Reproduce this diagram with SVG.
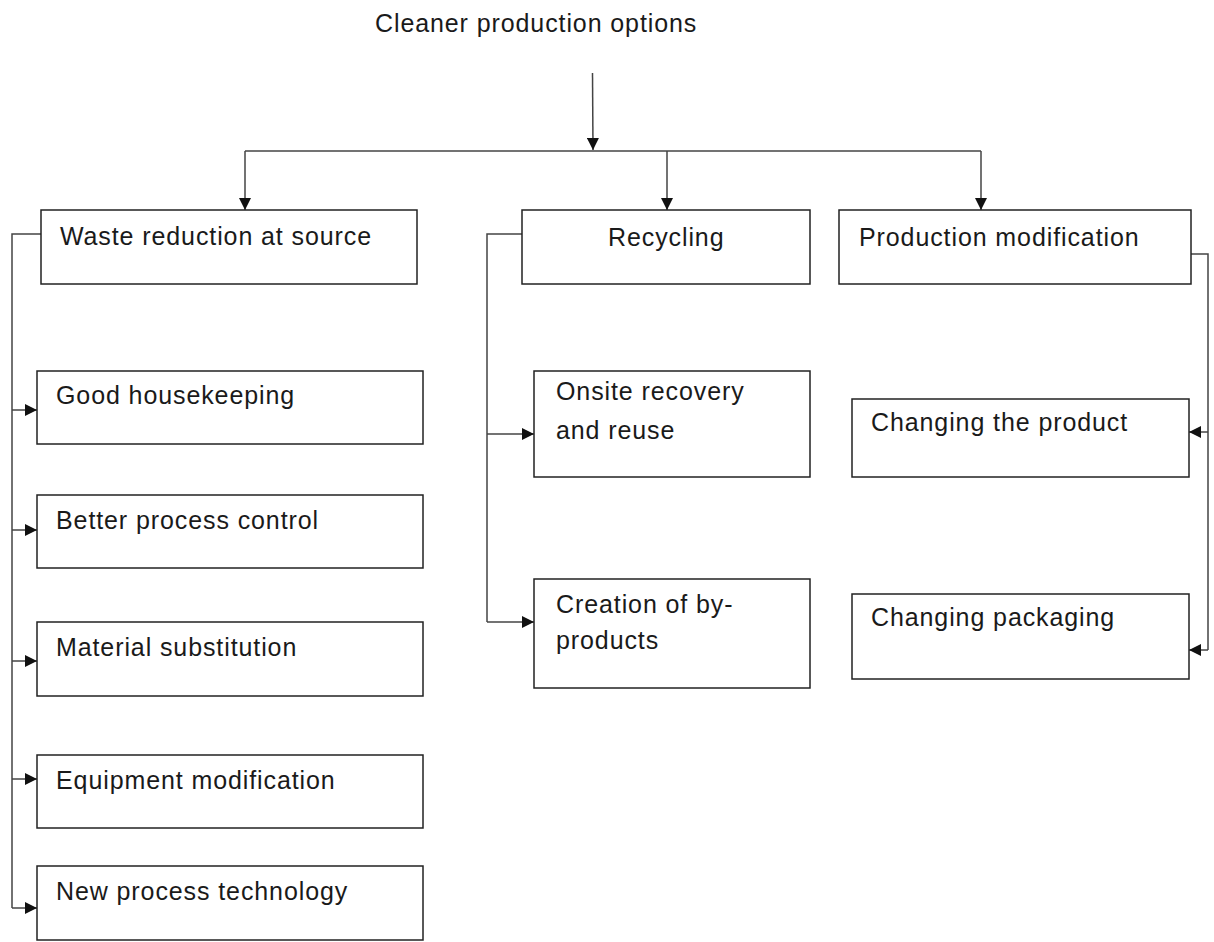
<svg xmlns="http://www.w3.org/2000/svg" width="1214" height="942" viewBox="0 0 1214 942">
<style>
.box{fill:#fff;stroke:#222;stroke-width:1.5}
.t{font-family:"Liberation Sans",Arial,sans-serif;font-size:25px;letter-spacing:0.9px;fill:#1a1a1a}
.c{fill:none;stroke:#444;stroke-width:1.5}
</style>
<defs>
<marker id="ah" markerUnits="userSpaceOnUse" markerWidth="13" markerHeight="12" refX="12" refY="6" orient="auto">
<path d="M0,0 L12,6 L0,12 z" fill="#111"/>
</marker>
</defs>
<rect width="1214" height="942" fill="#fff"/>
<g id="title"><text class="t" x="375" y="32">Cleaner production options</text></g>
<g id="connectors">
<path class="c" d="M592.5,73 L593,150" marker-end="url(#ah)"/>
<path class="c" d="M245,151 L981,151"/>
<path class="c" d="M245,151 L245,210" marker-end="url(#ah)"/>
<path class="c" d="M667,151 L667,210" marker-end="url(#ah)"/>
<path class="c" d="M981,151 L981,210" marker-end="url(#ah)"/>
<path class="c" d="M41,234 L12,234 L12,908"/>
<path class="c" d="M12,410 L37,410" marker-end="url(#ah)"/>
<path class="c" d="M12,530 L37,530" marker-end="url(#ah)"/>
<path class="c" d="M12,661 L37,661" marker-end="url(#ah)"/>
<path class="c" d="M12,779 L37,779" marker-end="url(#ah)"/>
<path class="c" d="M12,908 L37,908" marker-end="url(#ah)"/>
<path class="c" d="M522,234 L487,234 L487,622"/>
<path class="c" d="M487,434 L534,434" marker-end="url(#ah)"/>
<path class="c" d="M487,622 L534,622" marker-end="url(#ah)"/>
<path class="c" d="M1191,254 L1208,254 L1208,650"/>
<path class="c" d="M1208,432 L1189,432" marker-end="url(#ah)"/>
<path class="c" d="M1208,650 L1189,650" marker-end="url(#ah)"/>
</g>
<g id="waste"><rect class="box" x="41" y="210" width="376" height="74"/><text class="t" x="60" y="245">Waste reduction at source</text></g>
<g id="recycling"><rect class="box" x="522" y="210" width="288" height="74"/><text class="t" x="608" y="246">Recycling</text></g>
<g id="prodmod"><rect class="box" x="839" y="210" width="352" height="74"/><text class="t" x="859" y="246">Production modification</text></g>
<g id="good"><rect class="box" x="37" y="371" width="386" height="73"/><text class="t" x="56" y="404">Good housekeeping</text></g>
<g id="better"><rect class="box" x="37" y="495" width="386" height="73"/><text class="t" x="56" y="529">Better process control</text></g>
<g id="material"><rect class="box" x="37" y="622" width="386" height="74"/><text class="t" x="56" y="656">Material substitution</text></g>
<g id="equipment"><rect class="box" x="37" y="755" width="386" height="73"/><text class="t" x="56" y="789">Equipment modification</text></g>
<g id="newtech"><rect class="box" x="37" y="866" width="386" height="74"/><text class="t" x="56" y="900">New process technology</text></g>
<g id="onsite"><rect class="box" x="534" y="371" width="276" height="106"/><text class="t" x="556" y="400">Onsite recovery</text><text class="t" x="556" y="439">and reuse</text></g>
<g id="creation"><rect class="box" x="534" y="579" width="276" height="109"/><text class="t" x="556" y="613">Creation of by-</text><text class="t" x="556" y="649">products</text></g>
<g id="chproduct"><rect class="box" x="852" y="399" width="337" height="78"/><text class="t" x="871" y="431">Changing the product</text></g>
<g id="chpack"><rect class="box" x="852" y="594" width="337" height="85"/><text class="t" x="871" y="626">Changing packaging</text></g>
</svg>
